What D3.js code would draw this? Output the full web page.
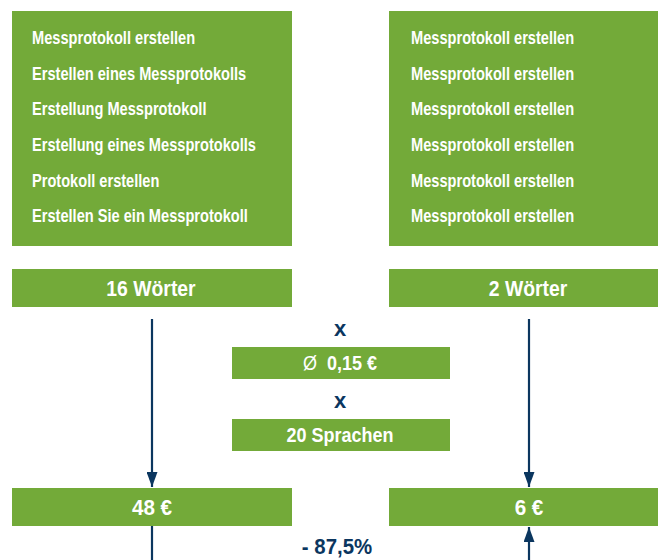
<!DOCTYPE html>
<html>
<head>
<meta charset="utf-8">
<script src="https://cdn.jsdelivr.net/npm/d3@7"></script>
<style>
  html, body { margin: 0; padding: 0; background: #fff; }
  svg { display: block; }
  text { font-family: 'Liberation Sans', Arial, 'Helvetica Neue', sans-serif; font-weight: bold; }
</style>
</head>
<body>
<div id="chart"></div>
<script>
/* ---------- data ---------- */
const columns = ['vorher', 'nachher'];
const leftTerms = [
  'Messprotokoll erstellen',
  'Erstellen eines Messprotokolls',
  'Erstellung Messprotokoll',
  'Erstellung eines Messprotokolls',
  'Protokoll erstellen',
  'Erstellen Sie ein Messprotokoll'
];
const rightTerms = [
  'Messprotokoll erstellen',
  'Messprotokoll erstellen',
  'Messprotokoll erstellen',
  'Messprotokoll erstellen',
  'Messprotokoll erstellen',
  'Messprotokoll erstellen'
];
const wordCounts = [16, 2];
const factorLabels = ['0,15 €', '20 Sprachen'];
const factorPrefix = ['Ø', ''];
const costs = [48, 6];
const reductionLabel = '- 87,5%';

/* ---------- layout ---------- */
const W = 658, H = 560;
const GREEN = '#73aa39';
const NAVY = '#0b365f';

const svg = d3.select('#chart').append('svg')
  .attr('width', W).attr('height', H)
  .attr('viewBox', `0 0 ${W} ${H}`);

svg.append('defs').append('marker')
  .attr('id', 'arrow')
  .attr('viewBox', '0 0 15 11')
  .attr('refX', 15).attr('refY', 5.5)
  .attr('markerWidth', 15).attr('markerHeight', 11)
  .attr('markerUnits', 'userSpaceOnUse')
  .attr('orient', 'auto')
  .append('path')
  .attr('d', 'M0,0 L15,5.5 L0,11 Z')
  .attr('fill', NAVY);

// condensed look: regular font squeezed horizontally
function squeeze(sel, x, y, sx) {
  sel.attr('transform', (d, i) => {
    const xx = typeof x === 'function' ? x(d, i) : x;
    const yy = typeof y === 'function' ? y(d, i) : y;
    return `translate(${xx},${yy}) scale(${sx},1)`;
  });
  return sel;
}

// two columns
const x = d3.scaleBand().domain(columns).range([12, 669]).paddingInner(97 / 377);
const bw = x.bandwidth();
const cx = c => x(c) + bw / 2;

// term rows inside the top boxes
const yTerm = d3.scalePoint().domain(d3.range(leftTerms.length)).range([38, 216]);

const termSets = [leftTerms, rightTerms];
const textPad = [20, 22];

const col = svg.selectAll('g.col')
  .data(columns)
  .join('g')
  .attr('class', 'col');

col.append('rect')
  .attr('x', d => x(d)).attr('y', 11)
  .attr('width', bw).attr('height', 235)
  .attr('fill', GREEN);

col.each(function (c, i) {
  d3.select(this).selectAll('text.term')
    .data(termSets[i])
    .join('text')
    .attr('class', 'term')
    .attr('dy', '0.35em')
    .attr('font-size', 17.5)
    .attr('fill', '#fff')
    .text(d => d)
    .call(squeeze, x(c) + textPad[i], (d, j) => yTerm(j), 0.835);
});

// word count boxes
col.append('rect')
  .attr('x', d => x(d)).attr('y', 269)
  .attr('width', bw).attr('height', 38)
  .attr('fill', GREEN);
col.append('text')
  .attr('dy', '0.35em')
  .attr('text-anchor', 'middle')
  .attr('font-size', 22)
  .attr('fill', '#fff')
  .text((d, i) => `${wordCounts[i]} Wörter`)
  .call(squeeze, d => cx(d) - 1, 288, 0.88);

// cost boxes
col.append('rect')
  .attr('x', d => x(d)).attr('y', 488)
  .attr('width', bw).attr('height', 38)
  .attr('fill', GREEN);
col.append('text')
  .attr('dy', '0.35em')
  .attr('text-anchor', 'middle')
  .attr('font-size', 21.5)
  .attr('fill', '#fff')
  .text((d, i) => `${costs[i]} €`)
  .call(squeeze, d => cx(d), 507, 0.96);

// arrows from word counts down to costs
col.append('line')
  .attr('x1', d => cx(d)).attr('x2', d => cx(d))
  .attr('y1', 319).attr('y2', 487)
  .attr('stroke', NAVY).attr('stroke-width', 2.2)
  .attr('marker-end', 'url(#arrow)');

// bottom connectors: left plain line, right arrow up into cost box
svg.append('line')
  .attr('x1', cx('vorher')).attr('x2', cx('vorher'))
  .attr('y1', 526).attr('y2', H)
  .attr('stroke', NAVY).attr('stroke-width', 2.2);
svg.append('line')
  .attr('x1', cx('nachher')).attr('x2', cx('nachher'))
  .attr('y1', H).attr('y2', 527)
  .attr('stroke', NAVY).attr('stroke-width', 2.2)
  .attr('marker-end', 'url(#arrow)');

// middle factors
const midX = (x('vorher') + bw + x('nachher')) / 2;
const yFactor = d3.scalePoint().domain(d3.range(factorLabels.length)).range([363, 435]);

const fac = svg.selectAll('g.factor')
  .data(factorLabels)
  .join('g')
  .attr('class', 'factor');

fac.append('text')
  .attr('x', midX - 0.5).attr('y', (d, i) => yFactor(i) - 35)
  .attr('dy', '0.35em')
  .attr('text-anchor', 'middle')
  .attr('font-size', 22)
  .attr('fill', NAVY)
  .text('x');

fac.append('rect')
  .attr('x', 232).attr('y', (d, i) => yFactor(i) - 16)
  .attr('width', 218).attr('height', 32)
  .attr('fill', GREEN);

const facText = fac.append('text')
  .attr('dy', '0.35em')
  .attr('text-anchor', 'middle')
  .attr('font-size', 20)
  .attr('fill', '#fff')
  .call(squeeze, 340, (d, i) => yFactor(i), 0.9);
facText.append('tspan')
  .attr('font-weight', 'normal')
  .text((d, i) => factorPrefix[i] ? factorPrefix[i] + '\u00a0\u00a0' : '');
facText.append('tspan')
  .text(d => d);

svg.append('text')
  .attr('dy', '0.35em')
  .attr('text-anchor', 'middle')
  .attr('font-size', 21.5)
  .attr('fill', NAVY)
  .text(reductionLabel)
  .call(squeeze, 337, 546, 0.95);
</script>
</body>
</html>
